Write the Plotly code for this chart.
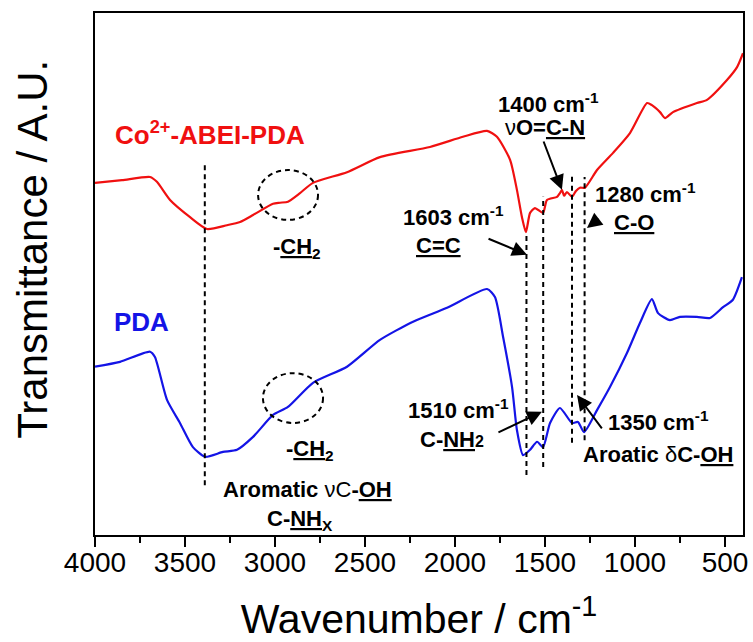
import plotly.graph_objects as go

# ---------------- data ----------------
co_wn = [4000, 3850, 3694, 3656, 3583, 3472, 3378, 3267, 3194, 3122, 3011, 2972, 2928,
         2861, 2789, 2600, 2417, 2139, 1956, 1822, 1767, 1694, 1656, 1628, 1606,
         1583, 1556, 1511, 1489, 1433, 1417, 1406, 1394, 1378, 1350, 1328, 1306,
         1278, 1211, 1122, 1028, 933, 906, 861, 833, 789, 656, 600, 489, 433, 400]
co_t = [68.3, 68.8, 69.4, 68.5, 65.1, 61.9, 59.7, 60.4, 61.0, 62.3, 64.4, 64.6, 64.8,
        66.4, 68.3, 70.3, 73.1, 75.0, 76.9, 78.0, 76.9, 72.6, 67.0, 61.9, 59.1,
        62.7, 63.6, 62.7, 65.1, 65.7, 66.4, 67.0, 65.9, 66.6, 65.7, 66.8, 67.4,
        67.4, 70.7, 73.9, 77.6, 83.2, 82.8, 81.5, 80.4, 81.5, 83.2, 83.8, 87.5, 89.9, 92.5]

pda_wn = [4000, 3861, 3694, 3667, 3600, 3528, 3456, 3389, 3289, 3211, 3122, 3011,
          2928, 2789, 2600, 2417, 2233, 2044, 1822, 1778, 1733, 1683, 1656, 1622,
          1583, 1544, 1511, 1472, 1417, 1350, 1317, 1283, 1211, 1139, 1044, 972,
          906, 872, 806, 750, 656, 583, 511, 456, 406]
pda_t = [34.0, 34.9, 36.8, 35.8, 27.8, 23.5, 19.0, 17.2, 18.1, 18.5, 20.9, 25.0,
         26.5, 31.0, 34.0, 39.0, 42.4, 45.0, 48.5, 47.0, 39.6, 30.2, 22.2, 17.5,
         18.5, 20.0, 19.0, 23.5, 26.3, 23.5, 23.7, 21.8, 25.9, 30.2, 36.6, 42.2,
         46.6, 44.0, 42.7, 43.3, 43.3, 43.1, 45.1, 46.5, 50.7]

series_names = ["Co<sup>2+</sup>-ABEI-PDA", "PDA"]
x_ticks = [4000, 3500, 3000, 2500, 2000, 1500, 1000, 500]

# band markers: wavenumber and vertical extent (top, bottom)
band_wn = [3390, 1603, 1510, 1350, 1280]
band_top = [72.0, 58.6, 65.7, 69.8, 69.4]
band_bottom = [11.9, 13.8, 15.3, 19.8, 20.3]

# ---------------- figure ----------------
RED = "#f01010"
BLUE = "#1414e6"
FONT = "Liberation Sans, Arial, sans-serif"
LS = 22  # annotation font size

fig = go.Figure()
fig.add_trace(go.Scatter(x=co_wn, y=co_t, mode="lines", name=series_names[0],
                         line=dict(color=RED, width=2.2, shape="spline", smoothing=0.6),
                         showlegend=False))
fig.add_trace(go.Scatter(x=pda_wn, y=pda_t, mode="lines", name=series_names[1],
                         line=dict(color=BLUE, width=2.2, shape="spline", smoothing=0.6),
                         showlegend=False))

shapes = []
for wn, top, bot in zip(band_wn, band_top, band_bottom):
    shapes.append(dict(type="line", xref="x", yref="y", x0=wn, x1=wn, y0=bot, y1=top,
                       line=dict(color="black", width=2, dash="5px,4px")))
# dashed ellipses around the -CH2 bands
shapes.append(dict(type="circle", xref="x", yref="y", x0=3094, x1=2761, y0=61.4, y1=70.7,
                   line=dict(color="black", width=2, dash="5px,4px")))
shapes.append(dict(type="circle", xref="x", yref="y", x0=3067, x1=2733, y0=23.5, y1=32.8,
                   line=dict(color="black", width=2, dash="5px,4px")))

ann = []
def label(x, y, text, size=LS, color="black", xanchor="center"):
    ann.append(dict(x=x, y=y, xref="x", yref="y", text=text, showarrow=False,
                    xanchor=xanchor, yanchor="middle",
                    font=dict(family=FONT, size=size, color=color)))

def arrow(x_tail, y_tail, x_head, y_head):
    ann.append(dict(x=x_head, y=y_head, ax=x_tail, ay=y_tail, xref="x", yref="y",
                    axref="x", ayref="y", text="", showarrow=True, arrowhead=2,
                    arrowsize=1.5, arrowwidth=2, arrowcolor="black", standoff=0))

label(3900, 77.6, "<b>Co<sup>2+</sup>-ABEI-PDA</b>", size=26, color=RED, xanchor="left")
label(3906, 42.4, "<b>PDA</b>", size=26, color=BLUE, xanchor="left")

label(2878, 56.2, "<b>-<u>CH</u><sub>2</sub></b>")
label(2806, 18.5, "<b>-<u>CH</u><sub>2</sub></b>")
label(2822, 11.0, "<b>Aromatic </b>νC<b>-<u>OH</u></b>")
label(2861, 5.4, "<b>C-<u>NH</u><sub>X</sub></b>")

label(1483, 83.2, "<b>1400 cm<sup>-1</sup></b>")
label(1500, 78.7, "ν<b>O=<u>C-N</u></b>")
label(2011, 62.1, "<b>1603 cm<sup>-1</sup></b>")
label(2094, 56.7, "<b><u>C=C</u></b>")
label(939, 66.4, "<b>1280 cm<sup>-1</sup></b>")
label(1006, 61.0, "<b><u>C-O</u></b>")
label(1983, 26.1, "<b>1510 cm<sup>-1</sup></b>")
label(2017, 20.5, "<b>C-<u>NH</u></b><span style='font-size:16px'><b>2</b></span>")
label(867, 23.9, "<b>1350 cm<sup>-1</sup></b>")
label(872, 17.7, "<b>Aroatic </b>δ<b>C-<u>OH</u></b>")

arrow(1511, 76.3, 1406, 67.0)
arrow(1822, 58.0, 1600, 54.9)
arrow(1194, 61.8, 1267, 59.9)
arrow(1767, 21.6, 1517, 25.6)
arrow(1178, 22.2, 1322, 28.7)

# y-axis title
ann.append(dict(x=-0.096, y=0.548, xref="paper", yref="paper", text="Transmittance / A.U.",
                showarrow=False, textangle=-90, xanchor="center", yanchor="middle",
                font=dict(family=FONT, size=42, color="black")))

fig.update_layout(
    width=753, height=642,
    margin=dict(l=95, r=10, t=13, b=107),
    paper_bgcolor="white", plot_bgcolor="white",
    shapes=shapes, annotations=ann,
    xaxis=dict(range=[4000, 400], tickvals=x_ticks, ticks="outside", ticklen=10,
               tickwidth=2, tickcolor="black", showline=True, linecolor="black",
               linewidth=2, mirror=True, showgrid=False, zeroline=False,
               automargin=False, ticklabelstandoff=-9,
               tickfont=dict(family=FONT, size=28, color="black"),
               minor=dict(dtick=250, tick0=0, ticks="outside", ticklen=6,
                          tickwidth=2, tickcolor="black", showgrid=False),
               title=dict(text="Wavenumber / cm<sup>-1</sup>", standoff=30,
                          font=dict(family=FONT, size=41, color="black"))),
    yaxis=dict(range=[2.6, 100], showticklabels=False, ticks="", showline=True,
               linecolor="black", linewidth=2, mirror=True, showgrid=False,
               zeroline=False, automargin=False),
)

fig.write_html("out.html")
